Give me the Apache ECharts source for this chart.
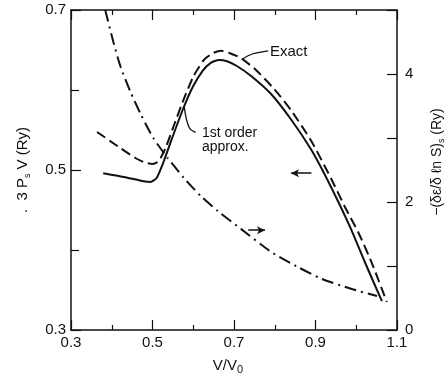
<!DOCTYPE html>
<html>
<head>
<meta charset="utf-8">
<script src="https://cdn.jsdelivr.net/npm/echarts@6/dist/echarts.min.js"></script>
<style>
html,body{margin:0;padding:0;background:#fff;}
#c{width:445px;height:381px;}
</style>
</head>
<body>
<div id="c"></div>
<script>
// X axis tick labels
var xTicks = [0.3, 0.5, 0.7, 0.9, 1.1];
var leftTicks = [0.3, 0.5, 0.7];
var rightTicks = [0, 2, 4];

// "1st order approx." (solid, left axis: 3 P_s V)
var firstX = [0.379, 0.433, 0.478, 0.495, 0.510, 0.527, 0.549, 0.574, 0.599, 0.623, 0.643, 0.663, 0.683, 0.707, 0.742, 0.791, 0.841, 0.890, 0.922, 0.957, 0.989, 1.021, 1.063];
var firstY = [0.496, 0.491, 0.486, 0.485, 0.490, 0.510, 0.541, 0.575, 0.604, 0.624, 0.634, 0.6375, 0.636, 0.630, 0.6175, 0.595, 0.5625, 0.525, 0.495, 0.459, 0.424, 0.385, 0.336];

// "Exact" (dashed, left axis)
var exactX = [0.364, 0.421, 0.458, 0.483, 0.500, 0.515, 0.532, 0.552, 0.577, 0.601, 0.626, 0.648, 0.668, 0.690, 0.717, 0.754, 0.799, 0.841, 0.890, 0.940, 0.972, 1.006, 1.038, 1.075];
var exactY = [0.5475, 0.5275, 0.515, 0.509, 0.5075, 0.511, 0.5275, 0.555, 0.589, 0.6175, 0.6375, 0.646, 0.649, 0.646, 0.640, 0.625, 0.601, 0.574, 0.536, 0.4875, 0.454, 0.421, 0.384, 0.335];

// dash-dot, right axis: -(de/d ln S)_s
var derivX = [0.384, 0.404, 0.421, 0.446, 0.472, 0.502, 0.537, 0.577, 0.619, 0.660, 0.717, 0.791, 0.858, 0.915, 0.989, 1.051];
var derivY = [5.0, 4.5, 4.125, 3.72, 3.36, 3.00, 2.69, 2.375, 2.09, 1.86, 1.58, 1.22, 0.98, 0.80, 0.64, 0.53];

function pairs(xs, ys){ return xs.map(function(x,i){ return [x, ys[i]]; }); }

var chart = echarts.init(document.getElementById('c'), null, {renderer:'canvas'});
var F = '"Liberation Sans", Arial, sans-serif';
var axisLine = {show:true, lineStyle:{color:'#111', width:1.5}};

function xAx(pos, showLabels){
  return {
    type:'value', position:pos, min:0.3, max:1.1, interval:0.2,
    axisLine:axisLine,
    axisTick:{show:true, inside:true, length:10, lineStyle:{color:'#111', width:1.2}},
    minorTick:{show:true, splitNumber:2, length:5, lineStyle:{color:'#111', width:1.2}},
    axisLabel:{show:showLabels, margin:5, color:'#111', fontSize:15, fontFamily:F,
      formatter:function(v){ var s = v.toFixed(1); return xTicks.indexOf(+s) >= 0 ? s : ''; }},
    splitLine:{show:false}, minorSplitLine:{show:false}
  };
}

var option = {
  animation:false,
  backgroundColor:'#fff',
  grid:{left:71, right:48, top:10, bottom:51},
  xAxis:[xAx('bottom', true), xAx('top', false)],
  yAxis:[{
    type:'value', position:'left', min:0.3, max:0.7, interval:0.2,
    axisLine:axisLine,
    axisTick:{show:true, inside:true, length:10, lineStyle:{color:'#111', width:1.2}},
    minorTick:{show:true, splitNumber:2, length:8, lineStyle:{color:'#111', width:1.2}},
    axisLabel:{margin:5, color:'#111', fontSize:15, fontFamily:F,
      formatter:function(v){ var s=v.toFixed(1); return leftTicks.indexOf(+s)>=0 ? s : ''; }},
    splitLine:{show:false}
  },{
    type:'value', position:'right', min:0, max:5, interval:1,
    axisLine:axisLine,
    axisTick:{show:true, inside:true, length:10, lineStyle:{color:'#111', width:1.2}},
    axisLabel:{margin:8, color:'#111', fontSize:15, fontFamily:F,
      formatter:function(v){ return rightTicks.indexOf(v)>=0 ? String(v) : ''; }},
    splitLine:{show:false}
  }],
  series:[{
    name:'1st order approx.', type:'line', xAxisIndex:0, yAxisIndex:0,
    data:pairs(firstX, firstY), showSymbol:false, smooth:0.2,
    lineStyle:{color:'#111', width:2},
    markLine:{silent:true, symbol:['none','arrow'], symbolSize:[6,8],
      label:{show:false}, lineStyle:{color:'#111', width:1.5, type:'solid'},
      data:[[{coord:[0.890,0.496]},{coord:[0.840,0.496]}]]}
  },{
    name:'Exact', type:'line', xAxisIndex:0, yAxisIndex:0,
    data:pairs(exactX, exactY), showSymbol:false, smooth:0.2,
    lineStyle:{color:'#111', width:2, type:[10,5]}
  },{
    name:'deriv', type:'line', xAxisIndex:0, yAxisIndex:1,
    data:pairs(derivX, derivY), showSymbol:false, smooth:0.2,
    lineStyle:{color:'#111', width:2, type:[12,5,2,5]},
    markLine:{silent:true, symbol:['none','arrow'], symbolSize:[6,8],
      label:{show:false}, lineStyle:{color:'#111', width:1.5, type:'solid'},
      data:[[{coord:[0.735,1.56]},{coord:[0.776,1.56]}]]}
  },{
    name:'leaderExact', type:'line', xAxisIndex:0, yAxisIndex:0, silent:true,
    data:[[0.722,0.639],[0.745,0.645],[0.784,0.649]], showSymbol:false, smooth:0.4,
    lineStyle:{color:'#111', width:1.3}
  },{
    name:'leaderFirst', type:'line', xAxisIndex:0, yAxisIndex:0, silent:true,
    data:[[0.578,0.579],[0.590,0.553],[0.606,0.547]], showSymbol:false, smooth:0.4,
    lineStyle:{color:'#111', width:1.3}
  }],
  graphic:[
    {type:'text', left:270, top:44, style:{text:'Exact', font:'15px '+F, fill:'#111'}},
    {type:'text', left:202, top:126, style:{text:'1st order\napprox.', font:'14px '+F, fill:'#111', lineHeight:14}},
    {type:'text', x:23, y:170, rotation:Math.PI/2,
      style:{text:'.  3 P{s|s} V (Ry)', align:'center', verticalAlign:'middle', fill:'#111',
        font:'15px '+F, fontSize:15, fontFamily:F, lineHeight:18,
        rich:{s:{fontSize:9, fontFamily:F, fill:'#111', verticalAlign:'bottom', lineHeight:18, padding:[6,0,0,0]}}}},
    {type:'text', x:437, y:162, rotation:Math.PI/2,
      style:{text:'\u2212(\u03b4\u03b5/\u03b4 \u2113n S){s|s} (Ry)', align:'center', verticalAlign:'middle', fill:'#111',
        font:'14px '+F, fontSize:14, fontFamily:F, lineHeight:18,
        rich:{s:{fontSize:9, fontFamily:F, fill:'#111', verticalAlign:'bottom', lineHeight:18, padding:[6,0,0,0]}}}},
    {type:'text', x:228, y:366,
      style:{text:'V/V{s|0}', align:'center', verticalAlign:'middle', fill:'#111',
        font:'15px '+F, fontSize:15, fontFamily:F, lineHeight:18,
        rich:{s:{fontSize:11, fontFamily:F, fill:'#111', verticalAlign:'bottom', lineHeight:18, padding:[7,0,0,0]}}}}
  ]
};
chart.setOption(option);
</script>
</body>
</html>
